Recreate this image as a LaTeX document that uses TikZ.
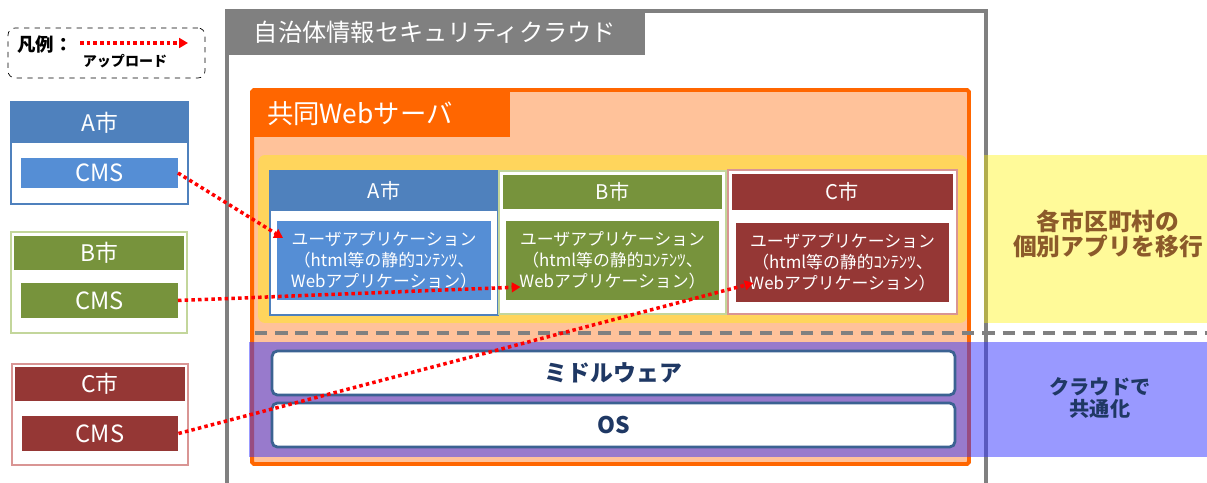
\documentclass[tikz,border=0pt]{standalone}
\usepackage{fontspec}
\setmainfont{Noto Sans CJK JP}
\usetikzlibrary{arrows.meta,calc}

\definecolor{cloudgray}{HTML}{808080}
\definecolor{weborange}{HTML}{FF6600}
\definecolor{webpeach}{HTML}{FFC29A}
\definecolor{ablue}{HTML}{4F81BD}
\definecolor{ablueapp}{HTML}{558ED5}
\definecolor{bgreen}{HTML}{77933C}
\definecolor{bline}{HTML}{C3D69B}
\definecolor{cred}{HTML}{953735}
\definecolor{cline}{HTML}{D99594}
\definecolor{layerline}{HTML}{3B6292}
\definecolor{navytext}{HTML}{1F3864}
\definecolor{movebrown}{HTML}{8C5A2A}
\definecolor{shareblue}{RGB}{51,51,255}

\tikzset{
  cityframe/.style={draw=#1,line width=1.6pt,fill=white},
  cityhead/.style={fill=#1,text=white,font=\fontsize{11.5}{12}\selectfont},
  appbox/.style={fill=#1,text=white,align=center,minimum width=4.28cm,minimum height=1.58cm,
    font=\fontsize{9.6}{11.9}\selectfont},
  cmsbox/.style={fill=#1,text=white,minimum width=3.14cm,font=\fontsize{13.5}{14}\selectfont},
  layerbox/.style={draw=layerline,line width=1.6pt,fill=white,rounded corners=3pt,
    minimum width=13.66cm,minimum height=0.88cm,text=navytext,font=\bfseries\fontsize{13}{13}\selectfont},
  upload/.style={draw=red,line width=2pt,dash pattern=on 2pt off 1.8pt,
    -{Triangle[length=5pt,width=5.5pt]}}
}

\begin{document}
\begin{tikzpicture}[x=0.02cm,y=-0.02cm,every node/.style={inner sep=0pt,outer sep=0pt}]
  \useasboundingbox (0,0) rectangle (1207,483);

  % legend
  \node[draw,dashed,rounded corners=4pt,minimum width=3.94cm,minimum height=1cm] (legend) at (106.5,53) {};
  \node[font=\bfseries\fontsize{10.5}{11}\selectfont] (legtext) at (45,45) {凡例：};
  \node[font=\bfseries\fontsize{8}{8}\selectfont] (legnote) at (125,61) {アップロード};
  \coordinate (legfrom) at (80,43);
  \coordinate (legto) at (188,43);

  % cloud
  \draw[cloudgray,line width=2pt] (227,490) |- (986,11) -- (986,490);
  \node[fill=cloudgray,text=white,minimum width=8.4cm,minimum height=0.9cm,
    font=\fontsize{13.8}{14}\selectfont] (cloudtab) at (435,32.5) {自治体情報セキュリティクラウド};

  % shared web server
  \node[draw=weborange,fill=webpeach,line width=2.2pt,rounded corners=1pt,
    minimum width=14.34cm,minimum height=7.48cm] (webbox) at (610.5,277) {};
  \node[fill=weborange,text=white,minimum height=0.94cm,text width=4.56cm,inner xsep=0.3cm,align=left,
    font=\fontsize{15}{15}\selectfont] (webtab) at (381,113.5) {共同Webサーバ};

  \node[fill=yellow,fill opacity=0.4,rounded corners=4pt,minimum width=14.18cm,minimum height=3.36cm]
    (yelband) at (612.5,239) {};
  \node[fill=yellow,fill opacity=0.4,minimum width=4.46cm,minimum height=3.36cm]
    (yelside) at (1095.5,239) {};

  \node[cityframe=ablue,minimum width=4.56cm,minimum height=2.88cm] (aframe) at (384,243) {};
  \node[cityhead=ablue,minimum width=4.56cm,minimum height=0.8cm] (ahead) at (384,191) {A市};
  \node[appbox=ablueapp] (aapp) at (384,260.5) {ユーザアプリケーション\\（html等の静的ｺﾝﾃﾝﾂ、\\Webアプリケーション）};

  \node[cityframe=bline,minimum width=4.54cm,minimum height=2.86cm] (bframe) at (612.5,242.5) {};
  \node[cityhead=bgreen,minimum width=4.38cm,minimum height=0.68cm] (bhead) at (612.5,192) {B市};
  \node[appbox=bgreen] (bapp) at (612.5,260.5) {ユーザアプリケーション\\（html等の静的ｺﾝﾃﾝﾂ、\\Webアプリケーション）};

  \node[cityframe=cline,minimum width=4.58cm,minimum height=2.88cm] (cframe) at (842.5,242) {};
  \node[cityhead=cred,minimum width=4.42cm,minimum height=0.72cm] (chead) at (842.5,192) {C市};
  \node[appbox=cred] (capp) at (842.5,262.5) {ユーザアプリケーション\\（html等の静的ｺﾝﾃﾝﾂ、\\Webアプリケーション）};

  \draw[cloudgray,line width=2.2pt,dash pattern=on 7pt off 4.5pt] (255,333) -- (1207,333);

  \node[fill=shareblue,fill opacity=0.5,minimum width=19.16cm,minimum height=2.3cm] (bluband) at (728,399.5) {};
  \node[layerbox] (mwbox) at (613.5,373) {ミドルウェア};
  \node[layerbox] (osbox) at (613.5,425) {OS};

  \node[text=movebrown,align=center,font=\bfseries\fontsize{13.5}{14.5}\selectfont]
    (movetext) at (1108,234) {各市区町村の\\個別アプリを移行};
  \node[text=navytext,align=center,font=\bfseries\fontsize{11.5}{12.5}\selectfont]
    (sharetext) at (1100,398) {クラウドで\\共通化};

  % cities
  \node[cityframe=ablue,minimum width=3.54cm,minimum height=2.04cm] (laframe) at (99.5,153) {};
  \node[cityhead=ablue,minimum width=3.54cm,minimum height=0.82cm,font=\fontsize{13}{13}\selectfont]
    (lahead) at (99.5,122.5) {A市};
  \node[cmsbox=ablueapp,minimum height=0.6cm] (lacms) at (99.5,173) {CMS};

  \node[cityframe=bline,minimum width=3.52cm,minimum height=2.02cm] (lbframe) at (99,282.5) {};
  \node[cityhead=bgreen,minimum width=3.4cm,minimum height=0.68cm,font=\fontsize{13}{13}\selectfont]
    (lbhead) at (99,253) {B市};
  \node[cmsbox=bgreen,minimum height=0.7cm] (lbcms) at (99.5,300.5) {CMS};

  \node[cityframe=cline,minimum width=3.52cm,minimum height=2.02cm] (lcframe) at (100,414.5) {};
  \node[cityhead=cred,minimum width=3.4cm,minimum height=0.68cm,font=\fontsize{13}{13}\selectfont]
    (lchead) at (100,384) {C市};
  \node[cmsbox=cred,minimum height=0.7cm] (lccms) at (100,433.5) {CMS};

  % uploads
  \draw[upload] (legfrom) -- (legto);
  \draw[upload] (lacms.east) -- ($(aapp.north west)+(6,17)$);
  \draw[upload] (lbcms.east) -- ($(bapp.south west)+(15,-13)$);
  \draw[upload] (lccms.east) -- ($(capp.south west)+(18,-19)$);
\end{tikzpicture}
\end{document}
